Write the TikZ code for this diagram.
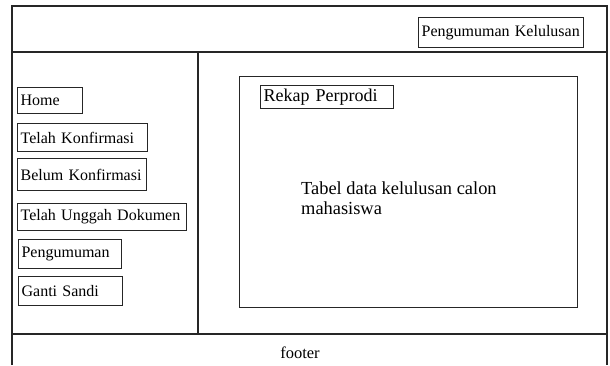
\documentclass[tikz,border=0pt]{standalone}
\usepackage{fontspec}
\setmainfont{Liberation Serif}
\begin{document}
\begin{tikzpicture}[x=1pt,y=-1pt,
  frame/.style={line width=1.2pt, draw=black!85},
  menubox/.style={draw=black!85, line width=1.2pt, anchor=north west, inner xsep=3pt, inner ysep=0pt,
    align=left, font=\fontsize{16}{18}\selectfont},
  plain/.style={inner sep=0pt, align=left, font=\fontsize{18.4}{19.5}\selectfont}]
\useasboundingbox (0,0) rectangle (610,365);
% outer layout
\coordinate (tl) at (12,6);
\coordinate (tr) at (607,6);
\coordinate (bl) at (12,365);
\coordinate (br) at (607,365);
\draw[frame] (bl) -- (tl) -- (tr) -- (br);
\coordinate (hl) at (12,52);
\coordinate (hr) at (607,52);
\draw[frame] (hl) -- (hr);
\coordinate (fl) at (12,334);
\coordinate (fr) at (607,334);
\draw[frame] (fl) -- (fr);
\coordinate (dt) at (198,52);
\coordinate (db) at (198,334);
\draw[frame] (dt) -- (db);
% header
\node[menubox, text width=159pt, minimum height=30pt] (kel) at (418,17) {Pengumuman Kelulusan};
% menu
\node[menubox, text width=59pt, minimum height=26pt] (home) at (17,87) {Home};
\node[menubox, text width=124pt, minimum height=28pt] (tk) at (17,123) {Telah Konfirmasi};
\node[menubox, text width=123pt, minimum height=32pt] (bk) at (17,158) {Belum Konfirmasi};
\node[menubox, text width=163pt, minimum height=27pt] (tu) at (17,203) {Telah Unggah Dokumen};
\node[menubox, text width=97pt, minimum height=29pt] (pg) at (18,239) {Pengumuman};
\node[menubox, text width=98pt, minimum height=29pt] (gs) at (18,276) {Ganti Sandi};
% content
\node[draw=black!85, line width=1.2pt, anchor=north west, minimum width=338pt, minimum height=231pt, inner sep=0pt] (content) at (239,76) {};
\node[menubox, text width=127pt, minimum height=23pt, font=\fontsize{18}{20}\selectfont] (rekap) at (260,85) {Rekap Perprodi};
\node[plain, anchor=base west] (tabel) at (301,214) {Tabel data kelulusan calon\\mahasiswa};
% footer
\node[inner sep=0pt, font=\fontsize{16.5}{18}\selectfont] (footer) at (300,353) {footer};
\end{tikzpicture}
\end{document}
